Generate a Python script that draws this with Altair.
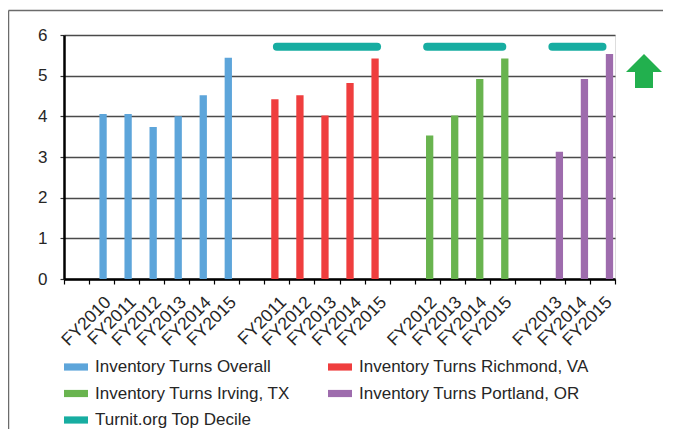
import altair as alt
import pandas as pd

# ---- data ----
overall_years = ["FY2010", "FY2011", "FY2012", "FY2013", "FY2014", "FY2015"]
overall_vals = [4.06, 4.06, 3.74, 4.00, 4.52, 5.44]
richmond_years = ["FY2011", "FY2012", "FY2013", "FY2014", "FY2015"]
richmond_vals = [4.42, 4.52, 4.02, 4.82, 5.42]
irving_years = ["FY2012", "FY2013", "FY2014", "FY2015"]
irving_vals = [3.53, 4.02, 4.92, 5.42]
portland_years = ["FY2013", "FY2014", "FY2015"]
portland_vals = [3.13, 4.92, 5.53]
top_decile_value = 5.71

series_names = [
    "Inventory Turns Overall",
    "Inventory Turns Richmond, VA",
    "Inventory Turns Irving, TX",
    "Inventory Turns Portland, OR",
    "Turnit.org Top Decile",
]
y_ticks = [0, 1, 2, 3, 4, 5, 6]

# ---- styles ----
colors = ["#5DA5DA", "#EF3E3E", "#69B44F", "#9E6CAD", "#17ADA1"]
bar_shift = {series_names[0]: 1.5, series_names[1]: -2.0,
             series_names[2]: 2.5, series_names[3]: 7.0}
FONT = "Liberation Sans"
TEXT = "#262626"
W, H = 551, 244
PAD = {"left": 56, "top": 27, "right": 48, "bottom": 150}

groups = [
    ("Overall", overall_years, overall_vals, series_names[0]),
    ("Richmond", richmond_years, richmond_vals, series_names[1]),
    ("Irving", irving_years, irving_vals, series_names[2]),
    ("Portland", portland_years, portland_vals, series_names[3]),
]

domain, bar_rows, decile_rows = [], [], []
for gi, (key, yrs, vals, name) in enumerate(groups):
    domain.append(f"gap{gi}|")
    for yr, v in zip(yrs, vals):
        k = f"{key}|{yr}"
        domain.append(k)
        bar_rows.append({"cat": k, "value": v, "series": name, "group": key})
        if key != "Overall":
            decile_rows.append({"cat": k, "value": top_decile_value,
                                "series": series_names[4], "group": key})

bars_df = pd.DataFrame(bar_rows)
decile_df = pd.DataFrame(decile_rows)

legend = alt.Legend(
    title=None, orient="none", legendX=0, legendY=320, columns=2,
    direction="horizontal",
    symbolType="M-1,-0.3H1V0.3H-1Z", symbolSize=576, symbolStrokeWidth=0,
    symbolOpacity=1,
    labelFont=FONT, labelFontSize=17, labelColor=TEXT, labelLimit=400,
    labelOffset=7, columnPadding=38, rowPadding=6.5,
)
color = alt.Color("series:N", scale=alt.Scale(domain=series_names, range=colors),
                  legend=legend)

x = alt.X(
    "cat:N", sort=domain, title=None,
    scale=alt.Scale(domain=domain, paddingInner=0, paddingOuter=0),
    axis=alt.Axis(
        labelExpr="split(datum.value, '|')[1]", labelAngle=-45,
        tickBand="extent", tickSize=5, tickWidth=1.2, tickColor="black",
        domainColor="black", domainWidth=2.5, labelFont=FONT,
        labelFontSize=17.5, labelColor=TEXT, labelPadding=9, grid=False,
        labelOverlap=False,
    ),
)
y = alt.Y(
    "value:Q", title=None, scale=alt.Scale(domain=[0, 6], nice=False),
    axis=alt.Axis(
        values=y_ticks, grid=True, gridColor="#4a4a4a", gridWidth=1.3,
        domainColor="black", domainWidth=2.5, tickColor="#333", tickSize=4,
        tickWidth=1.2, labelFont=FONT, labelFontSize=17, labelColor=TEXT,
        labelPadding=13,
    ),
)

layers = []
# frame lines around the chart (decoration: top and left edges, kept inside canvas)
right_edge = W + PAD["right"]
bottom_edge = H + PAD["bottom"]
layers.append(
    alt.Chart(alt.Data(values=[{}])).mark_rule(
        stroke="#6b6b6b", strokeWidth=1.5
    ).encode(x=alt.value(-55.5), y=alt.value(-24.5),
             x2=alt.value(right_edge), y2=alt.value(-24.5))
)
layers.append(
    alt.Chart(alt.Data(values=[{}])).mark_rule(
        stroke="#6b6b6b", strokeWidth=1.5
    ).encode(x=alt.value(-55.5), y=alt.value(-24.5),
             x2=alt.value(-55.5), y2=alt.value(bottom_edge))
)
for name in series_names[:4]:
    layers.append(
        alt.Chart(bars_df).transform_filter(alt.datum.series == name)
        .mark_bar(width=7.3, xOffset=bar_shift[name])
        .encode(x=x, y=y, color=color)
    )
layers.append(
    alt.Chart(decile_df).mark_line(strokeWidth=8, strokeCap="round")
    .encode(x=x, y=y, color=color, detail="group:N")
)
# green up arrow (decoration)
layers.append(
    alt.Chart(alt.Data(values=[{}])).mark_point(
        shape="M0,-0.944L1,0.05L0.5,0.05L0.5,0.944L-0.5,0.944L-0.5,0.05L-1,0.05Z",
        size=1296, filled=True, color="#22B04E", opacity=1, strokeWidth=0,
    ).encode(x=alt.value(580), y=alt.value(36))
)

chart = alt.layer(*layers).properties(
    width=W, height=H,
    autosize=alt.AutoSizeParams(type="none"),
    padding=PAD,
).configure_view(strokeWidth=0).configure(background="white")

chart.save("out.html", embed_options={"renderer": "svg", "actions": False})
